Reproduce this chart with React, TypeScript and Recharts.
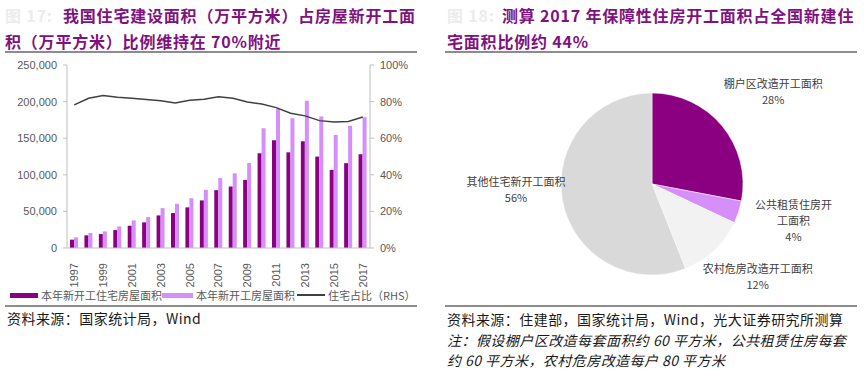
import React from "react";
import { ComposedChart, Bar, Line, XAxis, YAxis, PieChart, Pie, Cell } from "recharts";

// left chart: new starts (10k sqm) and residential share
const years = [
  "1997", "1998", "1999", "2000", "2001", "2002", "2003", "2004", "2005", "2006", "2007",
  "2008", "2009", "2010", "2011", "2012", "2013", "2014", "2015", "2016", "2017",
];
const residentialStarts = [
  11400, 17300, 19000, 24500, 30500, 35000, 44500, 47700, 55500, 65000, 79000,
  84000, 93000, 129400, 147200, 130700, 145800, 124900, 106700, 115900, 128100,
];
const totalStarts = [
  14500, 20500, 22700, 29500, 37700, 42300, 54500, 60500, 68000, 79500, 95500,
  102000, 116000, 163600, 190100, 177300, 201200, 179600, 154500, 166900, 178700,
];
const residentialShare = [
  0.782, 0.818, 0.833, 0.824, 0.818, 0.811, 0.804, 0.793, 0.807, 0.813, 0.827,
  0.818, 0.798, 0.787, 0.767, 0.736, 0.722, 0.696, 0.689, 0.691, 0.716,
];
const leftTicks = [0, 50000, 100000, 150000, 200000, 250000];
const rightTicks = [0, 0.2, 0.4, 0.6, 0.8, 1];

// right chart: 2017 share of new residential starts
const pieLabels = [
  "棚户区改造开工面积",
  "公共租赁住房开\n工面积",
  "农村危房改造开工面积",
  "其他住宅新开工面积",
];
const pieShares = [28, 4, 12, 56];

const DARK = "#8a0080";
const LIGHT = "#d68ef9";
const TITLE = "#80117f";
const pieColors = [DARK, LIGHT, "#f2f2f2", "#d9d9d9"];
const labelNudge = [[9, 0], [3, -9], [6, -14], [7, -22]];

const CJK = '"Noto Sans CJK SC", "Liberation Sans", sans-serif';
const LATIN = '"Liberation Sans", "Noto Sans CJK SC", sans-serif';

const barData = years.map((y, i) => ({
  year: y,
  residential: residentialStarts[i],
  total: totalStarts[i],
  share: residentialShare[i],
}));
const pieData = pieLabels.map((name, i) => ({ name, value: pieShares[i] }));

const YearTick = (props: any) => {
  const { x, y, payload } = props;
  return (
    <g transform={`translate(${x},${y})`}>
      <text transform="rotate(-90)" x={-7} dy="0.36em" textAnchor="end"
        fontSize={11} fill="#595959" fontFamily={LATIN}>
        {payload.value}
      </text>
    </g>
  );
};

const RAD = Math.PI / 180;
const renderPieLabel = (props: any) => {
  const { cx, cy, midAngle, outerRadius, index } = props;
  const r = outerRadius * 1.6;
  const x = cx + r * Math.cos(-midAngle * RAD) + labelNudge[index][0];
  const y = cy + r * Math.sin(-midAngle * RAD) + labelNudge[index][1];
  const lines = [...pieLabels[index].split("\n"), `${pieShares[index]}%`];
  const lh = 16;
  const y0 = y - ((lines.length - 1) * lh) / 2;
  return (
    <text x={x} y={y0} textAnchor="middle" dominantBaseline="central"
      fontSize={11} fill="#404040" fontFamily={CJK}>
      {lines.map((l, i) => (
        <tspan key={i} x={x} y={y0 + i * lh}>{l}</tspan>
      ))}
    </text>
  );
};

const titleStyle: React.CSSProperties = {
  position: "absolute",
  fontFamily: CJK,
  fontWeight: 700,
  fontSize: 16,
  letterSpacing: 0.8,
  color: TITLE,
  lineHeight: "26px",
  whiteSpace: "nowrap",
};
const ruleStyle: React.CSSProperties = {
  position: "absolute",
  height: 2,
  background: "#8c8c8c",
};
const sourceStyle: React.CSSProperties = {
  position: "absolute",
  fontFamily: CJK,
  fontSize: 14,
  letterSpacing: 0.45,
  color: "#1a1a1a",
  lineHeight: "20.5px",
  whiteSpace: "nowrap",
};

const LegendItem = ({ swatch, text, width }: { swatch: React.ReactNode; text: string; width: number }) => (
  <div style={{ display: "flex", alignItems: "center", width }}>
    {swatch}
    <span style={{ marginLeft: 3 }}>{text}</span>
  </div>
);

export default function App() {
  return (
    <div style={{ position: "absolute", left: 0, top: 0, width: 864, height: 370, background: "#fff", overflow: "hidden" }}>
      {/* left panel */}
      <div style={{ ...titleStyle, left: 5, top: 2 }}>
        <span style={{ color: "#ececec", display: "inline-block", width: 58 }}>图 17:</span>
        我国住宅建设面积（万平方米）占房屋新开工面
        <br />
        积（万平方米）比例维持在 70%附近
      </div>
      <div style={{ ...ruleStyle, left: 5, top: 51, width: 412 }} />

      <div style={{ position: "absolute", left: 0, top: 55 }}>
        <ComposedChart width={420} height={240} data={barData}
          margin={{ top: 10, right: 0, bottom: 0, left: 0 }}
          barGap={0} barSize={4}>
          <XAxis dataKey="year" interval={1} height={47} tick={<YearTick />}
            tickLine={false} axisLine={{ stroke: "#bfbfbf" }} />
          <YAxis yAxisId="left" width={67} domain={[0, 250000]} ticks={leftTicks}
            tickFormatter={(v: number) => v.toLocaleString("en-US")}
            tick={{ fontSize: 11, fill: "#595959", fontFamily: LATIN }}
            tickSize={4} tickMargin={6}
            axisLine={{ stroke: "#bfbfbf" }} tickLine={{ stroke: "#bfbfbf" }} />
          <YAxis yAxisId="right" orientation="right" width={50} domain={[0, 1]} ticks={rightTicks}
            tickFormatter={(v: number) => `${Math.round(v * 100)}%`}
            tick={{ fontSize: 11, fill: "#595959", fontFamily: LATIN }}
            tickSize={4} tickMargin={6}
            axisLine={{ stroke: "#bfbfbf" }} tickLine={{ stroke: "#bfbfbf" }} />
          <Bar yAxisId="left" dataKey="residential" fill={DARK} isAnimationActive={false} />
          <Bar yAxisId="left" dataKey="total" fill={LIGHT} isAnimationActive={false} />
          <Line yAxisId="right" dataKey="share" type="linear" stroke="#404040" strokeWidth={1.5}
            dot={false} isAnimationActive={false} />
        </ComposedChart>
      </div>

      <div style={{ position: "absolute", left: 10, top: 287, display: "flex", fontFamily: CJK, fontSize: 11, color: "#595959", lineHeight: "16px" }}>
        <LegendItem width={152} text="本年新开工住宅房屋面积"
          swatch={<span style={{ width: 28, height: 5, background: DARK, display: "inline-block" }} />} />
        <LegendItem width={135} text="本年新开工房屋面积"
          swatch={<span style={{ width: 31, height: 5, background: LIGHT, display: "inline-block" }} />} />
        <LegendItem width={130} text="住宅占比（RHS）"
          swatch={<span style={{ width: 28, height: 1.5, background: "#404040", display: "inline-block" }} />} />
      </div>
      <div style={{ ...ruleStyle, left: 5, top: 305, width: 412 }} />
      <div style={{ ...sourceStyle, left: 7, top: 308 }}>资料来源：国家统计局，Wind</div>

      {/* right panel */}
      <div style={{ ...titleStyle, left: 447, top: 2 }}>
        <span style={{ color: "#ececec", display: "inline-block", width: 55 }}>图 18:</span>
        测算 2017 年保障性住房开工面积占全国新建住
        <br />
        宅面积比例约 44%
      </div>
      <div style={{ ...ruleStyle, left: 445, top: 51, width: 412 }} />

      <div style={{ position: "absolute", left: 430, top: 60 }}>
        <PieChart width={434} height={240} margin={{ top: 0, right: 0, bottom: 0, left: 0 }}>
          <Pie data={pieData} dataKey="value" nameKey="name" cx={222} cy={124}
            outerRadius={91} startAngle={90} endAngle={-270}
            stroke="#ffffff" strokeWidth={0.5}
            labelLine={false} label={renderPieLabel} isAnimationActive={false}>
            {pieData.map((d, i) => (
              <Cell key={d.name} fill={pieColors[i]} />
            ))}
          </Pie>
        </PieChart>
      </div>

      <div style={{ ...ruleStyle, left: 445, top: 305, width: 412 }} />
      <div style={{ ...sourceStyle, left: 447, top: 309 }}>
        资料来源：住建部，国家统计局，Wind，光大证券研究所测算
        <br />
        <i>注：假设棚户区改造每套面积约 60 平方米，公共租赁住房每套</i>
        <br />
        <i>约 60 平方米，农村危房改造每户 80 平方米</i>
      </div>
    </div>
  );
}
